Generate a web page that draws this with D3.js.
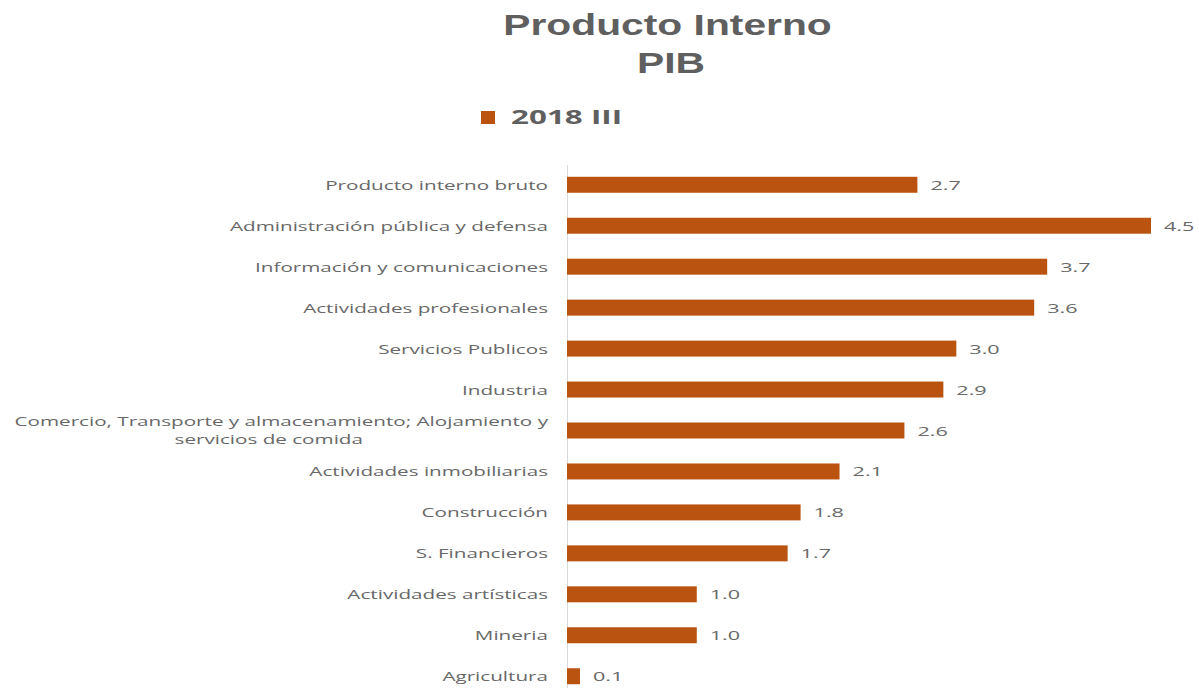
<!DOCTYPE html>
<html><head><meta charset="utf-8">
<script src="https://cdn.jsdelivr.net/npm/d3@7"></script>
<style>html,body{margin:0;padding:0;background:#fff;}</style>
</head><body>
<svg id="c" width="1199" height="688"></svg>
<script>
const categories = [
  "Producto interno bruto",
  "Administración pública y defensa",
  "Información y comunicaciones",
  "Actividades profesionales",
  "Servicios Publicos",
  "Industria",
  "Comercio, Transporte y almacenamiento; Alojamiento y|servicios de comida",
  "Actividades inmobiliarias",
  "Construcción",
  "S. Financieros",
  "Actividades artísticas",
  "Mineria",
  "Agricultura"
];
const values = [2.7, 4.5, 3.7, 3.6, 3.0, 2.9, 2.6, 2.1, 1.8, 1.7, 1.0, 1.0, 0.1];
const seriesName = "2018 III";
const titleLines = ["Producto Interno", "PIB"];

const color = "#B9530F";
const textGray = "#5f5f5f";
const labelGray = "#686868";
const svg = d3.select("#c");

const x = d3.scaleLinear().domain([0, 4.5]).range([567, 1151]);
const y = d3.scaleBand().domain(categories).range([164.5, 696.5]).paddingInner(0.61).paddingOuter(0.3);

// title
svg.selectAll("text.title").data(titleLines).join("text")
  .attr("class","title")
  .attr("transform",(d,i)=>`translate(${i===0?667.5:671},${35 + i*38}) scale(1.36,1)`)
  .attr("text-anchor","middle")
  .attr("font-family","Liberation Sans")
  .attr("font-weight","bold")
  .attr("font-size", 30)
  .attr("fill", textGray)
  .text(d=>d);

// legend
svg.append("rect").attr("x",481).attr("y",111).attr("width",14).attr("height",13).attr("fill",color);
svg.append("text").attr("transform","translate(511,124) scale(1.57,1)")
  .attr("font-family","Open Sans").attr("font-weight","bold").attr("font-size",20)
  .attr("fill",textGray).text(seriesName);

// axis line
svg.append("line").attr("x1",567.5).attr("x2",567.5).attr("y1",165).attr("y2",688)
  .attr("stroke","#D9D9D9").attr("stroke-width",1);

// bars
svg.selectAll("rect.bar").data(values).join("rect")
  .attr("class","bar")
  .attr("x", x(0))
  .attr("y", (d,i)=> y(categories[i]))
  .attr("width", d=> x(d)-x(0))
  .attr("height", y.bandwidth())
  .attr("fill", color);

// value labels
svg.selectAll("text.val").data(values).join("text")
  .attr("class","val")
  .attr("transform",(d,i)=>`translate(${x(d)+13},${y(categories[i])+y.bandwidth()/2+5}) scale(1.6,1)`)
  .attr("font-family","Open Sans").attr("font-size",13.5)
  .attr("fill",labelGray)
  .text(d=>d.toFixed(1));

// category labels
const sx = 1.53;
categories.forEach((c,i)=>{
  const lines = c.split("|");
  const cy = y(c)+y.bandwidth()/2;
  if(lines.length===1){
    svg.append("text")
      .attr("transform",`translate(548,${cy+5}) scale(${sx},1)`)
      .attr("text-anchor","end")
      .attr("font-family","Open Sans").attr("font-size",13.5)
      .attr("fill",labelGray).text(lines[0]);
  } else {
    const g = svg.append("g").attr("transform",`translate(548,${cy}) scale(${sx},1)`);
    const t1 = g.append("text").attr("x",0).attr("y",-5)
      .attr("text-anchor","end")
      .attr("font-family","Open Sans").attr("font-size",13.5)
      .attr("fill",labelGray).text(lines[0]);
    const w = t1.node().getComputedTextLength();
    g.append("text").attr("x",-w/2-12.5/sx).attr("y",13)
      .attr("text-anchor","middle")
      .attr("font-family","Open Sans").attr("font-size",13.5)
      .attr("fill",labelGray).text(lines[1]);
  }
});
</script>
</body></html>
